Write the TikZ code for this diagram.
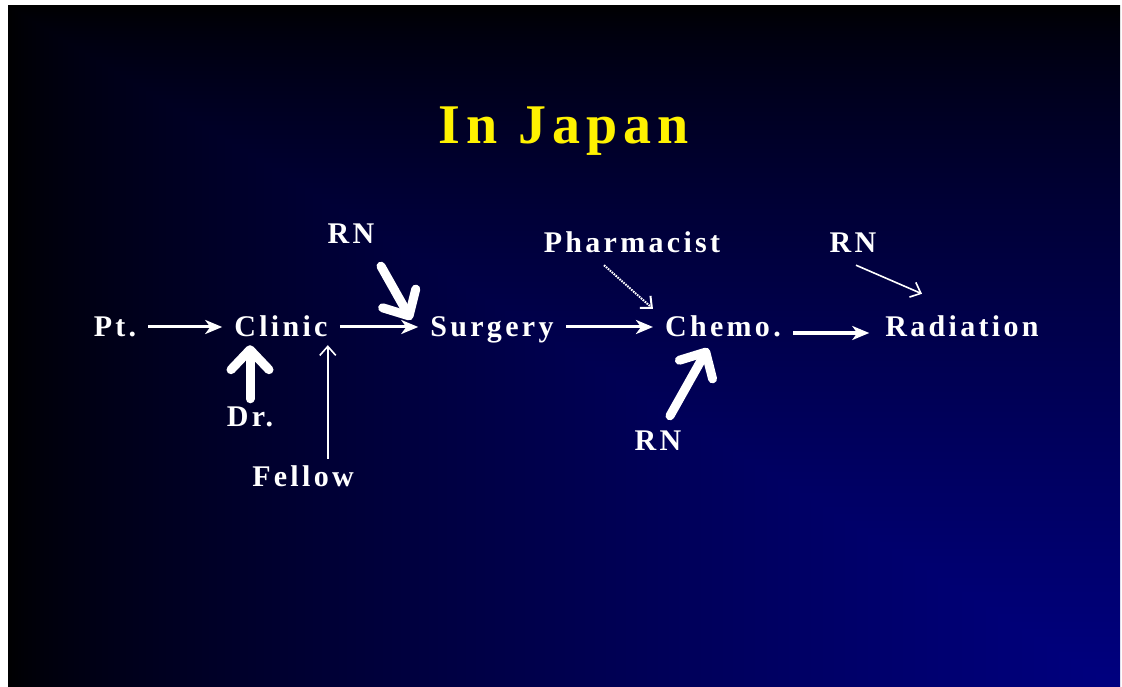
\documentclass[tikz,border=0pt]{standalone}
\usepackage{fontspec}
\setmainfont{Liberation Serif}
\newfontfamily\slidefont[LetterSpace=11]{Liberation Serif}
\usetikzlibrary{arrows.meta,positioning}

% slide background: dark at the left and top, navy towards the bottom right corner
\pgfdeclarefunctionalshading{slidebg}{\pgfpointorigin}{\pgfpoint{100bp}{100bp}}{}{
  25 sub 50 div 1 exch sub
  exch 25 sub 50 div
  2 copy gt {exch} if pop
  dup 0 lt {pop 0} if
  0.7 exp 0.5 mul
  0 0 3 -1 roll
}

\tikzset{
  lbl/.style={text=white, font=\slidefont\bfseries\fontsize{30}{36}\selectfont,
    text height=20pt, text depth=0pt, inner xsep=12pt, inner ysep=8pt, anchor=base},
  flow/.style={white, line width=3pt, -{Stealth[length=17pt,width=14pt,inset=5pt]}},
  heavy/.style={white, line width=9pt, line cap=round, -{Straight Barb[length=20pt,width=38pt,round]}},
  light/.style={white, line width=1.6pt, -{Straight Barb[length=9pt,width=16pt]}},
}

\begin{document}
\begin{tikzpicture}[x=1pt,y=1pt]
    % Page and background
    \useasboundingbox[fill=white] (0,0) rectangle (1122,686);
    \shade[shading=slidebg] (8,-3) rectangle (1120,680);

    % Title
    \node[text=yellow, font=\slidefont\bfseries\fontsize{56}{64}\selectfont, anchor=base] (title) at (564,542) {In Japan};

    % The path of the patient
    \node[lbl] (pt) at (115,349) {Pt.};
    \node[lbl] (clinic) at (281,349) {Clinic};
    \node[lbl] (surgery) at (492,349) {Surgery};
    \node[lbl] (chemo) at (723,349) {Chemo.};
    \node[lbl] (radiation) at (962,349) {Radiation};

    % The staff around it
    \node[lbl] (dr) at (250,259) {Dr.};
    \node[lbl] (fellow) at (303,199) {Fellow};
    \node[lbl] (rnsurg) at (351,442) {RN};
    \node[lbl] (pharm) at (632,433) {Pharmacist};
    \node[lbl] (rnchemo) at (658,235) {RN};
    \node[lbl] (rnrad) at (853,433) {RN};
    \coordinate (clinic end) at ([xshift=-12pt]clinic.east);

    % Arrows
    \draw[flow] (pt) -- (clinic);
    \draw[flow] (clinic) -- (surgery);
    \draw[flow] (surgery) -- (chemo);
    \draw[flow, line width=4.5pt] ([yshift=-6pt]chemo.east) -- ([shift={(-4,-6)}]radiation.west);
    \draw[heavy] (dr.north) -- (dr.north |- clinic.south);
    \draw[light] (clinic end |- fellow.north) -- (clinic end |- clinic.south);
    \draw[heavy] ([shift={(30,-14)}]rnsurg.south) -- ([shift={(-7,-11)}]surgery.north west);
    \draw[light, densely dotted, line width=2pt] ([shift={(-28,-4)}]pharm.south) -- (chemo.north west);
    \draw[heavy] ([shift={(12,7)}]rnchemo.north) -- ([shift={(-15,-3)}]chemo.south);
    \draw[light] ([shift={(3,-4)}]rnrad.south) -- ([shift={(-40,15)}]radiation.north);
  \end{tikzpicture}
\end{document}
